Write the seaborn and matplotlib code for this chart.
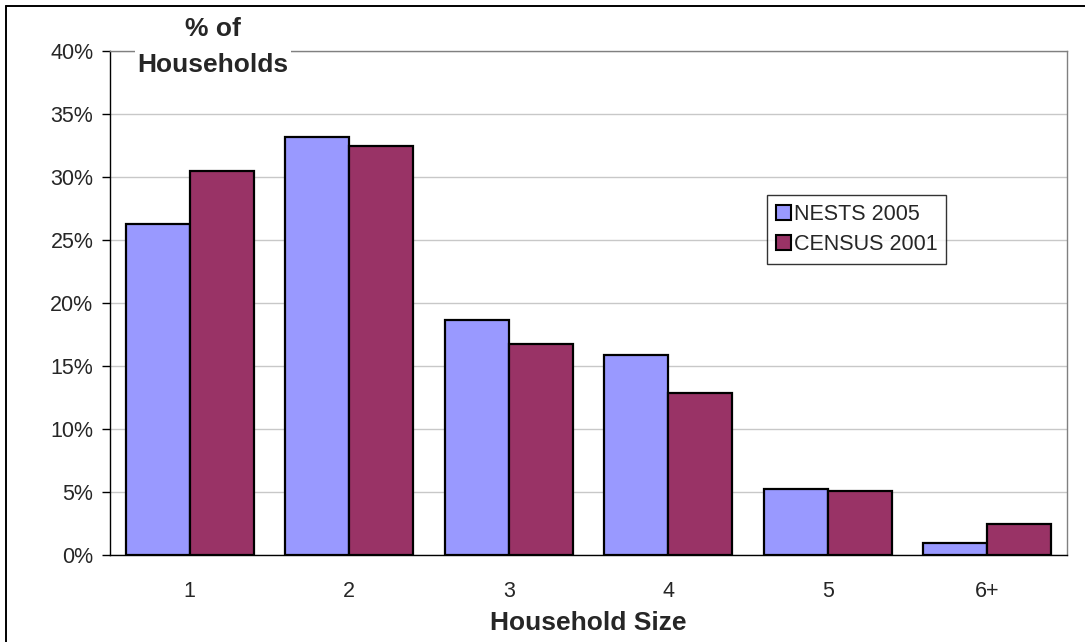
import matplotlib
matplotlib.use("Agg")
import matplotlib.pyplot as plt
from matplotlib.lines import Line2D
from matplotlib.ticker import FuncFormatter
import seaborn as sns
import pandas as pd

# Share of households by household size
sizes = ["1", "2", "3", "4", "5", "6+"]
nests_2005 = [26.25, 33.15, 18.6, 15.85, 5.2, 0.95]
census_2001 = [30.45, 32.4, 16.75, 12.85, 5.05, 2.45]
series_names = ["NESTS 2005", "CENSUS 2001"]
colors = ["#9999FF", "#993366"]

df = pd.DataFrame({
    "size": sizes * 2,
    "share": [v / 100 for v in nests_2005 + census_2001],
    "series": [series_names[0]] * len(sizes) + [series_names[1]] * len(sizes),
})

sns.set_theme(style="white")
plt.rcParams["font.family"] = ["Liberation Sans", "DejaVu Sans"]

W, H = 1085, 642
fig = plt.figure(figsize=(W / 100, H / 100), dpi=100)
ax = fig.add_axes([110 / W, (H - 555) / H, (1067 - 110) / W, (555 - 50.5) / H])

sns.barplot(data=df, x="size", y="share", hue="series", order=sizes,
            hue_order=series_names, palette=colors, width=0.8, dodge=True,
            edgecolor="black", linewidth=1.6, saturation=1, ax=ax, zorder=3)

ax.set_ylim(0, 0.40)
ax.set_yticks([i * 0.05 for i in range(9)])
ax.yaxis.set_major_formatter(FuncFormatter(lambda v, _: f"{round(v * 100)}%"))
ax.grid(axis="y", color="#C8C8C8", linewidth=1.0, zorder=0)
ax.set_axisbelow(True)

for side in ("top", "right"):
    ax.spines[side].set_color("#808080")
    ax.spines[side].set_linewidth(1.0)
for side in ("left", "bottom"):
    ax.spines[side].set_color("black")
    ax.spines[side].set_linewidth(1.0)

ax.tick_params(axis="y", which="major", left=True, direction="out", length=6,
               width=1.0, color="black", labelsize=15.5, pad=6)
ax.tick_params(axis="x", bottom=False, labelsize=15.5, pad=13)

ax.set_xlabel("Household Size", fontsize=19, fontweight="bold", labelpad=6)
ax.set_ylabel("")

leg = ax.legend(loc="upper left", bbox_to_anchor=((767 - 110) / 957, (555 - 195) / 504.5),
                fontsize=15.5, frameon=True, fancybox=False, edgecolor="black",
                handlelength=0.7, handleheight=0.7, handletextpad=0.15,
                borderpad=0.4, labelspacing=0.45, borderaxespad=0)
leg.get_frame().set_linewidth(1.0)
for h in leg.legend_handles:
    h.set_edgecolor("black")
    h.set_linewidth(1.5)

# Outer frame lines on the left and top of the figure
fig.add_artist(Line2D([5.5 / W, 5.5 / W], [0, 1 - 5.5 / H], color="black",
                      linewidth=1.4, transform=fig.transFigure))
fig.add_artist(Line2D([5.5 / W, 1], [1 - 5.5 / H, 1 - 5.5 / H], color="black",
                      linewidth=1.4, transform=fig.transFigure))

# Y axis title sits in the top-left corner over a white box
fig.text(213 / W, 1 - 47 / H, "% of\nHouseholds", ha="center", va="center",
         fontsize=19, fontweight="bold", linespacing=1.6,
         bbox=dict(facecolor="white", edgecolor="none", pad=2))

fig.savefig("out.png", dpi=100)
